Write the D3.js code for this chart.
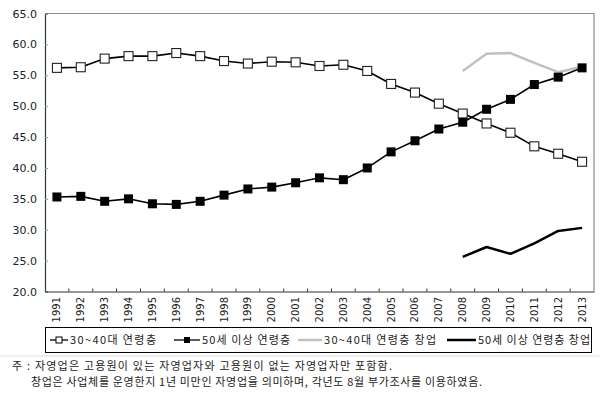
<!DOCTYPE html>
<html><head><meta charset="utf-8">
<script src="https://cdn.jsdelivr.net/npm/d3@7"></script>
<style>body{margin:0;background:#fff}svg{display:block}</style>
</head><body>
<svg id="c" width="604" height="395"></svg>
<script>
const years = ["1991","1992","1993","1994","1995","1996","1997","1998","1999","2000","2001","2002","2003","2004","2005","2006","2007","2008","2009","2010","2011","2012","2013"];
const age3040 = [56.2,56.3,57.7,58.1,58.1,58.6,58.1,57.3,56.9,57.2,57.1,56.5,56.7,55.7,53.6,52.2,50.4,48.8,47.2,45.7,43.5,42.3,41.0];
const age50 = [35.3,35.4,34.6,35.0,34.2,34.1,34.6,35.6,36.6,36.9,37.6,38.4,38.1,40.0,42.6,44.4,46.3,47.4,49.5,51.1,53.5,54.7,56.2];
const startYears = ["2008","2009","2010","2011","2012","2013"];
const start3040 = [55.7,58.5,58.6,57.0,55.5,56.4];
const start50 = [25.6,27.2,26.1,27.8,29.8,30.3];
const yTicks = [20,25,30,35,40,45,50,55,60,65];
const legendLabels = ["30~40대 연령층","50세 이상 연령층","30~40대 연령층 창업","50세 이상 연령층 창업"];
const notes = ["주 : 자영업은 고용원이 있는 자영업자와 고용원이 없는 자영업자만 포함함.","창업은 사업체를 운영한지 1년 미만인 자영업을 의미하며, 각년도 8월 부가조사를 이용하였음."];

const svg = d3.select("#c");
const L=45,R=594,T=13.5,B=291.5;
const x = d3.scaleBand().domain(years).range([L,R]).padding(0);
const y = d3.scaleLinear().domain([20,65]).range([B,T]);
const cx = d => x(d)+x.bandwidth()/2;
const numFont = "'DejaVu Sans', Arial, sans-serif";
const krFont = "'Noto Sans CJK KR', sans-serif";

// frame
svg.append("path").attr("d",`M${L},${T}H${R}V${B}`).attr("fill","none").attr("stroke","#8c8c8c").attr("stroke-width",1.2);

// y axis
const ya = svg.append("g").attr("transform",`translate(${L},0)`)
  .call(d3.axisLeft(y).tickValues(yTicks).tickSize(-3).tickPadding(8).tickFormat(d3.format(".1f")));
ya.select(".domain").attr("stroke","#333").attr("stroke-width",1.2);
ya.selectAll(".tick line").attr("stroke","#999");
ya.selectAll("text").attr("font-family",numFont).attr("font-size",11).attr("fill","#222");

// x axis
const xa = svg.append("g").attr("transform",`translate(0,${B})`)
  .call(d3.axisBottom(x).tickSize(0).tickFormat(""));
xa.select(".domain").attr("stroke","#333").attr("stroke-width",1.2);
xa.selectAll(".tick").remove();
svg.append("g").selectAll("line").data(d3.range(1,years.length)).join("line")
  .attr("x1",i=>L+i*x.bandwidth()).attr("x2",i=>L+i*x.bandwidth())
  .attr("y1",B-3).attr("y2",B).attr("stroke","#333");
svg.append("g").selectAll("text").data(years).join("text")
  .attr("transform",d=>`translate(${cx(d)},297) rotate(-90)`)
  .attr("text-anchor","end").attr("dy","0.35em")
  .attr("font-family",numFont).attr("font-size",10).attr("fill","#222").text(d=>d);

const line = d3.line();
function drawLine(xs, vals, color, w){
  svg.append("path").attr("d", line(xs.map((d,i)=>[cx(d), y(vals[i])])))
    .attr("fill","none").attr("stroke",color).attr("stroke-width",w).attr("stroke-linejoin","round");
}
drawLine(startYears, start3040, "#c0c0c0", 2.5);
drawLine(startYears, start50, "#000", 2.5);
drawLine(years, age3040, "#000", 1.6);
drawLine(years, age50, "#000", 1.6);

const S=9;
svg.append("g").selectAll("rect").data(years).join("rect")
  .attr("x",d=>cx(d)-S/2).attr("y",(d,i)=>y(age3040[i])-S/2).attr("width",S).attr("height",S)
  .attr("fill","#fff").attr("stroke","#222").attr("stroke-width",1.1);
svg.append("g").selectAll("rect").data(years).join("rect")
  .attr("x",d=>cx(d)-S/2).attr("y",(d,i)=>y(age50[i])-S/2).attr("width",S).attr("height",S)
  .attr("fill","#000");

// legend
svg.append("rect").attr("x",45.5).attr("y",327.5).attr("width",546).attr("height",25)
  .attr("fill","#fff").attr("stroke","#000").attr("stroke-width",1);
const ly = 340;
const legendX = [50,174,298,447];
const lineLen = [18,26,24,29];
const textLen = [86,88,112,112];
const lg = svg.append("g");
legendLabels.forEach((lab,i)=>{
  const x0 = legendX[i], x1 = x0+lineLen[i];
  const col = i===2 ? "#c0c0c0" : "#000";
  lg.append("line").attr("x1",x0).attr("x2",x1).attr("y1",ly).attr("y2",ly)
    .attr("stroke",col).attr("stroke-width", i>=2?2.5:1.3);
  if(i===0) lg.append("rect").attr("x",(x0+x1)/2-3).attr("y",ly-3).attr("width",6).attr("height",6).attr("fill","#fff").attr("stroke","#000").attr("stroke-width",1);
  if(i===1) lg.append("rect").attr("x",(x0+x1)/2-3).attr("y",ly-3).attr("width",6).attr("height",6).attr("fill","#000");
  lg.append("text").attr("x",x1+2).attr("y",ly).attr("dy","0.36em")
    .attr("textLength",textLen[i]).attr("lengthAdjust","spacing")
    .attr("font-family",krFont).attr("font-size",11).attr("fill","#222").text(lab);
});

// separator
svg.append("line").attr("x1",0).attr("x2",600).attr("y1",356).attr("y2",356).attr("stroke","#ddd");

// notes
svg.append("text").attr("x",12).attr("y",366).attr("dy","0.36em")
  .attr("textLength",380).attr("lengthAdjust","spacing")
  .attr("font-family",krFont).attr("font-size",11).attr("fill","#222").text(notes[0]);
svg.append("text").attr("x",31).attr("y",382).attr("dy","0.36em")
  .attr("textLength",451).attr("lengthAdjust","spacing")
  .attr("font-family",krFont).attr("font-size",11).attr("fill","#222").text(notes[1]);
</script>
</body></html>
